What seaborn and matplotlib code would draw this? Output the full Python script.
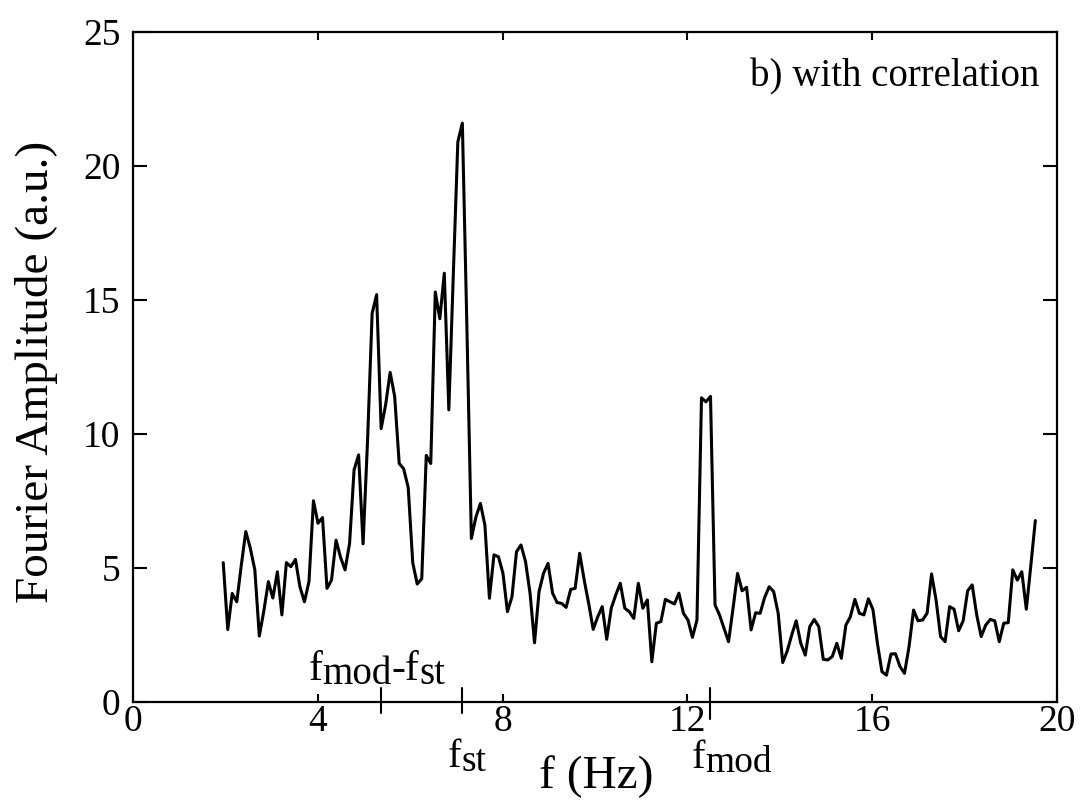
import matplotlib
matplotlib.use("Agg")
import matplotlib.pyplot as plt
import matplotlib.transforms as mtransforms
import pandas as pd
import seaborn as sns

# ---------------- data ----------------
freq_hz = [
    1.953, 2.051, 2.148, 2.246, 2.344, 2.441, 2.539, 2.637, 2.734, 2.832,
    2.930, 3.027, 3.125, 3.223, 3.320, 3.418, 3.516, 3.613, 3.711, 3.809,
    3.906, 4.004, 4.102, 4.199, 4.297, 4.395, 4.492, 4.590, 4.688, 4.785,
    4.883, 4.980, 5.078, 5.176, 5.273, 5.371, 5.469, 5.566, 5.664, 5.762,
    5.859, 5.957, 6.055, 6.152, 6.250, 6.348, 6.445, 6.543, 6.641, 6.738,
    6.836, 6.934, 7.031, 7.129, 7.227, 7.324, 7.422, 7.520, 7.617, 7.715,
    7.813, 7.910, 8.008, 8.105, 8.203, 8.301, 8.398, 8.496, 8.594, 8.691,
    8.789, 8.887, 8.984, 9.082, 9.180, 9.277, 9.375, 9.473, 9.570, 9.668,
    9.766, 9.863, 9.961, 10.059, 10.156, 10.254, 10.352, 10.449, 10.547, 10.645,
    10.742, 10.840, 10.938, 11.035, 11.133, 11.230, 11.328, 11.426, 11.523, 11.621,
    11.719, 11.816, 11.914, 12.012, 12.109, 12.207, 12.305, 12.402, 12.500, 12.598,
    12.695, 12.793, 12.891, 12.988, 13.086, 13.184, 13.281, 13.379, 13.477, 13.574,
    13.672, 13.770, 13.867, 13.965, 14.063, 14.160, 14.258, 14.355, 14.453, 14.551,
    14.648, 14.746, 14.844, 14.941, 15.039, 15.137, 15.234, 15.332, 15.430, 15.527,
    15.625, 15.723, 15.820, 15.918, 16.016, 16.113, 16.211, 16.309, 16.406, 16.504,
    16.602, 16.699, 16.797, 16.895, 16.992, 17.090, 17.188, 17.285, 17.383, 17.480,
    17.578, 17.676, 17.773, 17.871, 17.969, 18.066, 18.164, 18.262, 18.359, 18.457,
    18.555, 18.652, 18.750, 18.848, 18.945, 19.043, 19.141, 19.238, 19.336, 19.434,
    19.531,
]

amplitude = [
    5.2, 2.7, 4.05, 3.74, 5.1, 6.36, 5.74, 4.93, 2.46, 3.4,
    4.49, 3.88, 4.86, 3.25, 5.2, 5.05, 5.32, 4.3, 3.74, 4.49,
    7.51, 6.67, 6.88, 4.24, 4.55, 6.04, 5.4, 4.93, 5.92, 8.66,
    9.22, 5.9, 9.8, 14.5, 15.2, 10.2, 11.1, 12.3, 11.4, 8.9,
    8.7, 8.0, 5.2, 4.4, 4.6, 9.2, 8.9, 15.3, 14.3, 16.0,
    10.9, 16.0, 20.9, 21.6, 14.0, 6.1, 6.9, 7.41, 6.6, 3.87,
    5.49, 5.42, 4.8, 3.37, 3.93, 5.61, 5.86, 5.24, 4.06, 2.21,
    4.12, 4.81, 5.17, 4.06, 3.71, 3.68, 3.53, 4.2, 4.24, 5.55,
    4.55, 3.68, 2.71, 3.18, 3.56, 2.34, 3.5, 3.99, 4.43, 3.5,
    3.37, 3.12, 4.43, 3.5, 3.81, 1.5, 2.94, 3.0, 3.83, 3.74,
    3.66, 4.06, 3.31, 3.06, 2.41, 3.06, 11.35, 11.2, 11.4, 3.62,
    3.25, 2.75, 2.25, 3.5, 4.8, 4.15, 4.28, 2.69, 3.33, 3.31,
    3.9, 4.3, 4.12, 3.31, 1.47, 1.9, 2.5, 3.03, 2.2, 1.75,
    2.81, 3.08, 2.81, 1.59, 1.57, 1.7, 2.19, 1.63, 2.87, 3.18,
    3.83, 3.31, 3.25, 3.85, 3.45, 2.19, 1.13, 1.0, 1.79, 1.8,
    1.32, 1.07, 2.06, 3.43, 3.03, 3.06, 3.31, 4.78, 3.8, 2.44,
    2.25, 3.56, 3.46, 2.66, 3.03, 4.15, 4.37, 3.25, 2.44, 2.87,
    3.08, 3.03, 2.25, 2.94, 2.96, 4.93, 4.55, 4.86, 3.46, 5.1,
    6.77,
]

x_ticks = [0, 4, 8, 12, 16, 20]
y_ticks = [0, 5, 10, 15, 20, 25]

f_st = 7.12
f_mod = 12.48
f_mod_minus_st = 5.36

panel_label = "b) with correlation"
x_label = "f (Hz)"
y_label = "Fourier Amplitude (a.u.)"

# ---------------- style ----------------
sns.set_style("ticks")
plt.rcParams["font.family"] = ["Liberation Serif", "DejaVu Serif"]

W, H = 1088, 800
fig = plt.figure(figsize=(W / 100, H / 100), dpi=100)
ax = fig.add_axes([133 / W, 1 - 702 / H, 924 / W, 670 / H])

df = pd.DataFrame({"freq": freq_hz, "amp": amplitude})
sns.lineplot(data=df, x="freq", y="amp", ax=ax, color="black",
             linewidth=2.2, sort=False)

ax.set_xlim(0, 20)
ax.set_ylim(0, 25)
ax.set_xticks(x_ticks)
ax.set_yticks(y_ticks)
ax.set_xticklabels([str(t) for t in x_ticks])
ax.set_yticklabels([str(t) for t in y_ticks])

for sp in ax.spines.values():
    sp.set_visible(True)
    sp.set_linewidth(1.6)
    sp.set_color("black")

ax.tick_params(direction="in", top=True, right=True, width=1.5,
               labelsize=27, colors="black")
ax.tick_params(axis="x", length=6, pad=2)
ax.tick_params(axis="y", length=10, pad=9)

ax.set_xlabel(x_label, fontsize=34, color="black")
ax.set_ylabel(y_label, fontsize=34, color="black")
ax.xaxis.label.set_va("center")
ax.yaxis.label.set_va("center")
ax.xaxis.set_label_coords(0.501, -0.112)
ax.yaxis.set_label_coords(-0.104, 0.4925)

# special frequency markers crossing the x axis
trans = mtransforms.blended_transform_factory(ax.transData, ax.transAxes)
for fv, below in [(f_mod_minus_st, 11), (f_st, 11), (f_mod, 17)]:
    ax.plot([fv, fv], [-below / 670, 14 / 670], transform=trans,
            color="black", lw=1.5, clip_on=False)

renderer = fig.canvas.get_renderer()
ident = mtransforms.IdentityTransform()


def compound_label(x_center, baseline_from_top, pieces):
    made = []
    total = 0.0
    for s, size, drop in pieces:
        t = fig.text(0, 0, s, fontsize=size, ha="left", va="baseline",
                     transform=ident, color="black")
        w = t.get_window_extent(renderer).width
        made.append((t, w, drop))
        total += w
    x = x_center - total / 2
    for t, w, drop in made:
        t.set_position((x, H - baseline_from_top - drop))
        x += w


def px_of(f):
    return ax.transData.transform((f, 0))[0]


compound_label(px_of(f_mod_minus_st) - 4, 680,
               [("f", 30, 0), ("mod", 28, 4), ("-f", 30, 0), ("st", 28, 4)])
compound_label(px_of(f_st) + 5, 767, [("f", 29, 0), ("st", 27, 4)])
compound_label(px_of(f_mod) + 22, 768, [("f", 29, 0), ("mod", 27, 4)])

fig.text(1040 / W, 1 - 86 / H, panel_label, fontsize=28, ha="right",
         va="baseline", color="black")

fig.savefig("out.png", dpi=100)
